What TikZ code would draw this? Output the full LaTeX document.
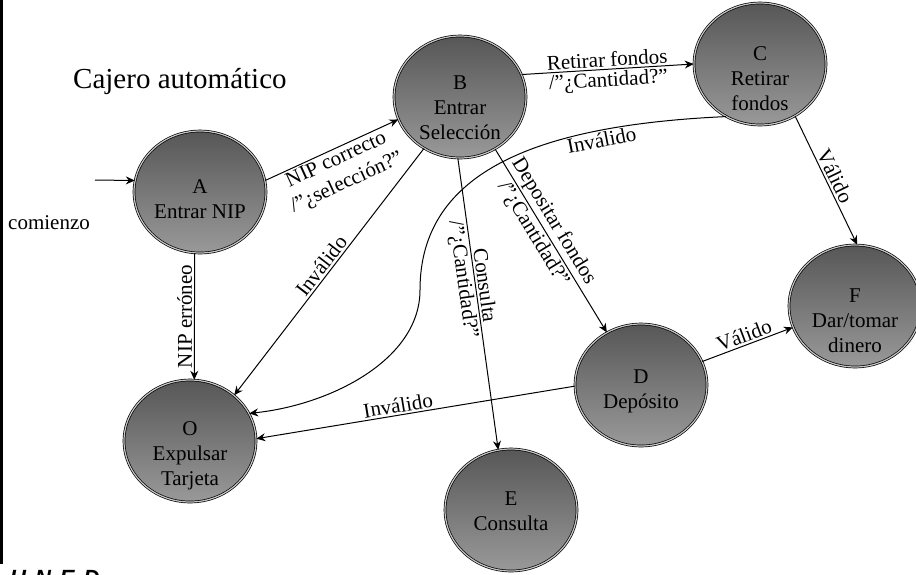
\documentclass[tikz,border=0pt]{standalone}
\usepackage{fontspec}
\setmainfont{Liberation Serif}
\newfontfamily\unedfont{Liberation Sans}
\usetikzlibrary{arrows.meta,shapes.geometric}

% state label: a centred stack of lines, lowered inside the ellipse
% while keeping its natural size
\newcommand{\statetext}[2][-6pt]{\raisebox{#1}[\height][\depth]{\begin{tabular}{@{}c@{}}#2\end{tabular}}}

\begin{document}
\begin{tikzpicture}[x=1pt,y=-1pt,
  state/.style={ellipse, draw=black, line width=0.7pt, double=black!22,
    double distance=1.2pt, top color=black!66, bottom color=black!40,
    minimum width=132pt, minimum height=122pt, inner sep=0pt,
    font=\fontsize{21}{25}\selectfont},
  edge/.style={draw, line width=1pt, -{Stealth[length=9pt,width=8pt,inset=3pt]}},
  lbl/.style={font=\fontsize{21}{25}\selectfont, inner sep=2pt},
]
\useasboundingbox (0,0) rectangle (916,574);

% page rule on the left
\fill[black] (0,0) rectangle (2.5,564);

% title
\node[font=\fontsize{29}{34}\selectfont, anchor=base west, inner sep=0pt] (title) at (73,88) {Cajero automático};

% states
\node[state] (A) at (200,192) {\statetext[-9pt]{A\\Entrar NIP}};
\node[state] (B) at (460,97)  {\statetext[-12pt]{B\\Entrar\\Selección}};
\node[state] (C) at (760,64)  {\statetext[-16pt]{C\\Retirar\\fondos}};
\node[state] (D) at (641,385) {\statetext[-6pt]{D\\Depósito}};
\node[state] (E) at (511,510) {\statetext[-3pt]{E\\Consulta}};
\node[state] (F) at (855,306) {\statetext[-16pt]{F\\Dar/tomar\\dinero}};
\node[state] (O) at (190,441) {\statetext[-14pt]{O\\Expulsar\\Tarjeta}};

% entry
\coordinate (start) at (95,180);
\node[lbl, anchor=base west, inner sep=0pt] (cz) at (8,229) {comienzo};
\draw[edge] (start) -- (A.170);

% transitions
\draw[edge] (A.265) -- (O.86)
  node[midway, rotate=90, anchor=south, lbl] {NIP erróneo};
\draw[edge] (A.10) -- (B.200)
  node[midway, sloped, below, lbl, align=center] {NIP correcto\\/”¿selección?”};
\draw[edge] (B.20) -- (C.180)
  node[midway, sloped, above, lbl] {Retirar fondos}
  node[midway, sloped, below, lbl] {/”¿Cantidad?”};
\draw[edge] (B.304) -- (D.123)
  node[pos=0.43, sloped, above, lbl] {Depositar fondos}
  node[pos=0.43, sloped, below, lbl] {/”¿Cantidad?”};
\draw[edge] (B.268) -- (E.102)
  node[pos=0.44, sloped, above, lbl] {Consulta}
  node[pos=0.41, sloped, below, lbl] {/”¿Cantidad?”};
\draw[edge] (B.235) -- (O.46)
  node[pos=0.5, sloped, above, lbl] {Inválido};
\draw[edge] (C.237) .. controls (540,125) and (420,170) .. (420,290)
  node[pos=0.25, sloped, below, lbl] {Inválido}
  .. controls (420,360) and (330,405) .. (O.25);
\draw[edge] (C.304) -- (F.88)
  node[midway, sloped, above, lbl] {Válido};
\draw[edge] (D.21) -- (F.199)
  node[midway, sloped, above, lbl] {Válido};
\draw[edge] (D.181) -- (O.2)
  node[pos=0.55, sloped, above, lbl] {Inválido};

% footer mark, running off the lower edge
\node[anchor=north west, inner sep=0pt,
  font=\unedfont\bfseries\itshape\fontsize{22}{22}\selectfont] (uned) at (10,570)
  {U\hspace{9pt}N\hspace{9pt}E\hspace{9pt}D};
\end{tikzpicture}
\end{document}
